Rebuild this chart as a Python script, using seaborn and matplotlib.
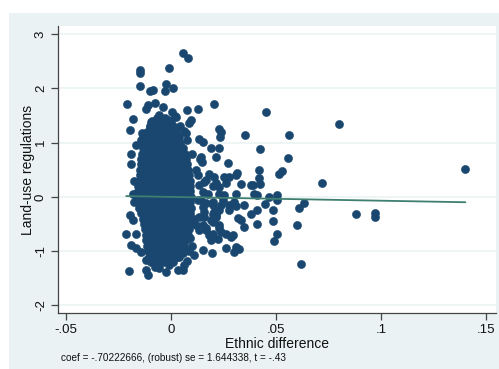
"""
Added-variable style scatter: land-use regulations vs ethnic difference
"""
import numpy as np
import pandas as pd
import seaborn as sns
import matplotlib.pyplot as plt
from matplotlib.patches import Rectangle

sns.set_style('white')
plt.rcParams['font.family'] = ['Liberation Sans', 'DejaVu Sans']

# dense core of the cloud, read row by row (y level -> x positions)
CORE_ROW_Y = [1.4, 1.3, 1.2, 1.1, 1.0, 0.9, 0.8, 0.7, 0.6, 0.5, 0.4, 0.3, 0.2, 0.1, 0.0,
              -0.1, -0.2, -0.3, -0.4, -0.5, -0.6, -0.7, -0.8, -0.9, -1.0, -1.1, -1.2]
CORE_ROW_X = [
    [-0.0089, -0.0057, -0.0030, 0.0002],
    [-0.0101, -0.0074, -0.0043, -0.0016, 0.0012],
    [-0.0114, -0.0088, -0.0057, -0.0030, 0.0001, 0.0025],
    [-0.0124, -0.0101, -0.0072, -0.0045, -0.0014, 0.0013, 0.0036],
    [-0.0131, -0.0113, -0.0088, -0.0057, -0.0030, 0.0002, 0.0028, 0.0045],
    [-0.0133, -0.0104, -0.0072, -0.0043, -0.0016, 0.0013, 0.0041, 0.0058],
    [-0.0137, -0.0115, -0.0086, -0.0059, -0.0028, 0.0001, 0.0030, 0.0055, 0.0068],
    [-0.0141, -0.0122, -0.0098, -0.0072, -0.0045, -0.0014, 0.0015, 0.0042, 0.0072],
    [-0.0144, -0.0117, -0.0087, -0.0057, -0.0030, 0.0001, 0.0028, 0.0056, 0.0076],
    [-0.0148, -0.0122, -0.0096, -0.0069, -0.0042, -0.0015, 0.0013, 0.0040, 0.0062, 0.0080],
    [-0.0149, -0.0120, -0.0091, -0.0061, -0.0032, -0.0003, 0.0026, 0.0050, 0.0070, 0.0085],
    [-0.0152, -0.0124, -0.0097, -0.0068, -0.0041, -0.0013, 0.0015, 0.0043, 0.0070, 0.0090],
    [-0.0155, -0.0127, -0.0099, -0.0070, -0.0042, -0.0014, 0.0016, 0.0046, 0.0075, 0.0091],
    [-0.0158, -0.0130, -0.0101, -0.0073, -0.0044, -0.0016, 0.0012, 0.0040, 0.0068, 0.0093],
    [-0.0161, -0.0140, -0.0116, -0.0087, -0.0058, -0.0029, 0.0001, 0.0029, 0.0057, 0.0080, 0.0094],
    [-0.0156, -0.0128, -0.0100, -0.0072, -0.0043, -0.0015, 0.0013, 0.0041, 0.0068, 0.0093],
    [-0.0150, -0.0122, -0.0094, -0.0066, -0.0037, -0.0009, 0.0019, 0.0047, 0.0075, 0.0094],
    [-0.0142, -0.0114, -0.0085, -0.0057, -0.0029, -0.0001, 0.0027, 0.0055, 0.0078, 0.0093],
    [-0.0135, -0.0107, -0.0079, -0.0051, -0.0023, 0.0005, 0.0033, 0.0060, 0.0080, 0.0092],
    [-0.0130, -0.0102, -0.0074, -0.0046, -0.0018, 0.0010, 0.0038, 0.0065, 0.0090],
    [-0.0125, -0.0097, -0.0069, -0.0041, -0.0013, 0.0015, 0.0043, 0.0070, 0.0088],
    [-0.0120, -0.0093, -0.0065, -0.0037, -0.0009, 0.0019, 0.0046, 0.0066, 0.0080],
    [-0.0117, -0.0089, -0.0061, -0.0033, -0.0005, 0.0023, 0.0051, 0.0072],
    [-0.0114, -0.0086, -0.0058, -0.0030, -0.0002, 0.0026, 0.0045, 0.0060],
    [-0.0110, -0.0082, -0.0054, -0.0026, 0.0002, 0.0030, 0.0048],
    [-0.0105, -0.0077, -0.0049, -0.0021, 0.0007, 0.0030],
    [-0.0094, -0.0066, -0.0038, -0.0010, 0.0008],
]

# points above the core
UPPER_X = [0.0059, 0.0082, -0.0146, -0.0146, -0.0010, -0.0146, -0.0099, -0.0086, -0.0026, -0.0030,
           0.0009, -0.0208, 0.0206, -0.0121, -0.0110, -0.0078, -0.0039, 0.0004, 0.0078, 0.0127,
           -0.0181, -0.0195, 0.0086, 0.0096, 0.0070, 0.0064, 0.0135, 0.0151, 0.0190, 0.0230,
           0.0230, 0.0238, 0.0234, 0.0025, -0.0055, -0.0030, -0.0015, -0.0094, -0.0102, -0.0134,
           -0.0142, 0.0075, 0.0017, -0.0139, -0.0189, -0.0190, -0.0165, 0.0045, -0.0065]
UPPER_Y = [2.66, 2.57, 2.35, 2.28, 2.37, 2.04, 1.96, 1.97, 2.09, 1.96,
           2.01, 1.72, 1.71, 1.63, 1.69, 1.74, 1.66, 1.57, 1.60, 1.62,
           1.44, 1.23, 1.36, 1.42, 1.18, 1.21, 1.06, 1.01, 0.91, 0.90,
           1.26, 1.20, 1.11, 1.47, 1.51, 1.45, 1.41, 1.38, 1.29, 1.14,
           1.05, 1.05, 1.49, 1.17, 0.80, 0.60, 0.95, 1.30, 1.45]

# fan of points spreading to the right of the core
FAN_X = [0.0101, 0.0139, 0.0148, 0.0215, 0.0270, 0.0120, 0.0127, 0.0183, 0.0167, 0.0207,
         0.0215, 0.0199, 0.0254, 0.0262, 0.0310, 0.0135, 0.0151, 0.0175, 0.0230, 0.0254,
         0.0310, 0.0278, 0.0230, 0.0159, 0.0143, 0.0127, 0.0167, 0.0199, 0.0246, 0.0278,
         0.0302, 0.0159, 0.0199, 0.0230, 0.0135, 0.0112, 0.0349, 0.0310, 0.0238, 0.0199,
         0.0151, 0.0143, 0.0317, 0.0333, 0.0349, 0.0278, 0.0207, 0.0120, 0.0135, 0.0159,
         0.0191, 0.0215, 0.0167, 0.0199, 0.0230, 0.0238, 0.0262, 0.0286, 0.0294, 0.0151,
         0.0194, 0.0112, 0.0262, 0.0302, 0.0310, 0.0215, 0.0199, 0.0230, 0.0222, 0.0151,
         0.0167, 0.0183, 0.0191, 0.0325, 0.0090, 0.0100, 0.0085]
FAN_Y = [0.79, 0.69, 0.65, 0.74, 0.62, 0.49, 0.40, 0.43, 0.31, 0.37,
         0.25, 0.20, 0.37, 0.25, 0.40, 0.22, 0.09, 0.06, 0.06, 0.03,
         0.06, 0.37, 0.18, 0.28, 0.74, -0.06, -0.12, -0.09, -0.06, -0.15,
         -0.09, -0.28, -0.31, -0.25, -0.37, -0.40, -0.15, -0.17, -0.15, -0.15,
         -0.18, -0.06, -0.39, -0.43, -0.55, -0.25, -0.28, -0.52, -0.61, -0.37,
         -0.43, -0.34, -0.58, -0.68, -0.58, -0.65, -0.68, -0.74, -0.71, -0.98,
         -1.03, -1.08, -0.95, -1.01, -0.92, -0.37, -0.46, -0.52, -0.77, -0.52,
         -0.61, -0.71, -0.80, -0.97, -0.75, -0.90, -1.00]

# scattered points far to the right
RIGHT_X = [0.0452, 0.0800, 0.0563, 0.0354, 0.0424, 0.0558, 0.1402, 0.0420, 0.0417, 0.0424,
           0.0381, 0.0333, 0.0515, 0.0527, 0.0718, 0.0397, 0.0412, 0.0468, 0.0507, 0.0504,
           0.0449, 0.0634, 0.0610, 0.0484, 0.0412, 0.0381, 0.0408, 0.0484, 0.0880, 0.0970,
           0.0970, 0.0598, 0.0507, 0.0489, 0.0621, 0.0313, 0.0389]
RIGHT_Y = [1.57, 1.34, 1.14, 1.14, 0.89, 0.72, 0.51, 0.49, 0.34, 0.23,
           0.22, 0.23, 0.43, 0.48, 0.25, 0.06, 0.03, 0.00, 0.03, -0.06,
           -0.13, -0.11, -0.20, -0.25, -0.25, -0.32, -0.50, -0.44, -0.32, -0.29,
           -0.38, -0.52, -0.68, -0.81, -1.23, 0.44, 0.22]

# points on the left edge and below the core
LOWER_X = [-0.0213, -0.0165, -0.0197, -0.0181, -0.0189, -0.0165, -0.0142, -0.0118, -0.0200, -0.0118,
           -0.0110, -0.0078, -0.0055, -0.0023, -0.0007, 0.0032, 0.0056, 0.0040, 0.0056, 0.0009,
           -0.0180, -0.0175, -0.0178, 0.0075, 0.0060]
LOWER_Y = [-0.68, -0.68, -0.34, -0.43, -0.89, -0.95, -1.01, -1.17, -1.36, -1.35,
           -1.44, -1.30, -1.32, -1.38, -1.26, -1.35, -1.35, -1.11, -1.04, -1.01,
           0.05, -0.10, 0.30, -1.18, -1.25]

# regression of the added-variable plot
COEF = -0.70222666
INTERCEPT = 0.0
NOTE = "coef = -.70222666, (robust) se = 1.644338, t = -.43"

X_TICKS = [-0.05, 0, 0.05, 0.1, 0.15]
X_LABELS = ['-.05', '0', '.05', '.1', '.15']
Y_TICKS = [-2, -1, 0, 1, 2, 3]
Y_LABELS = ['-2', '-1', '0', '1', '2', '3']

NAVY = '#1a476f'
BG = '#eaf2f3'

core_x, core_y = [], []
for yv, xs in zip(CORE_ROW_Y, CORE_ROW_X):
    core_x += xs
    core_y += [yv] * len(xs)

df = pd.DataFrame({
    'ethnic': core_x + UPPER_X + FAN_X + RIGHT_X + LOWER_X,
    'landuse': core_y + UPPER_Y + FAN_Y + RIGHT_Y + LOWER_Y,
})

fig = plt.figure(figsize=(4.99, 3.69), dpi=100)
fig.patch.set_facecolor('white')
# Stata-like outer panel
fig.add_artist(Rectangle((9 / 499, 0), 1, (369 - 13) / 369, transform=fig.transFigure,
                         facecolor=BG, edgecolor='none', zorder=0))
ax = fig.add_axes([58 / 499, 1 - 313 / 369, (496 - 58) / 499, (313 - 26) / 369])
ax.set_facecolor('white')

sns.scatterplot(data=df, x='ethnic', y='landuse', ax=ax, color=NAVY, s=34,
                edgecolor=NAVY, linewidth=0.4, zorder=3)

fit = pd.DataFrame({'ethnic': [df['ethnic'].min(), df['ethnic'].max()]})
fit['landuse'] = INTERCEPT + COEF * fit['ethnic']
sns.lineplot(data=fit, x='ethnic', y='landuse', ax=ax, color='#3f7f70', linewidth=1.3, zorder=4)

ax.set_xlim(-0.0538, 0.1548)
ax.set_ylim(-2.142, 3.153)
ax.set_xticks(X_TICKS)
ax.set_xticklabels(X_LABELS)
ax.set_yticks(Y_TICKS)
ax.set_yticklabels(Y_LABELS, rotation=90, va='center')

ax.grid(axis='y', color=BG, linewidth=1.1, zorder=0)
ax.grid(axis='x', visible=False)
ax.set_axisbelow(True)

for side in ['top', 'right']:
    ax.spines[side].set_visible(False)
for side in ['left', 'bottom']:
    ax.spines[side].set_color('#444444')
    ax.spines[side].set_linewidth(0.9)

ax.tick_params(axis='both', direction='out', length=5, width=0.9, color='#444444',
               labelsize=9.5, labelcolor='#111111', pad=3, left=True, bottom=True)

ax.set_xlabel('Ethnic difference', fontsize=10, labelpad=1, color='#111111')
ax.set_ylabel('Land-use regulations', fontsize=10, labelpad=0, color='#111111')

fig.text(61 / 499, 1 - 358 / 369, NOTE, fontsize=7.2, va='center', ha='left', color='#111111')

plt.savefig('out.png', dpi=100)
